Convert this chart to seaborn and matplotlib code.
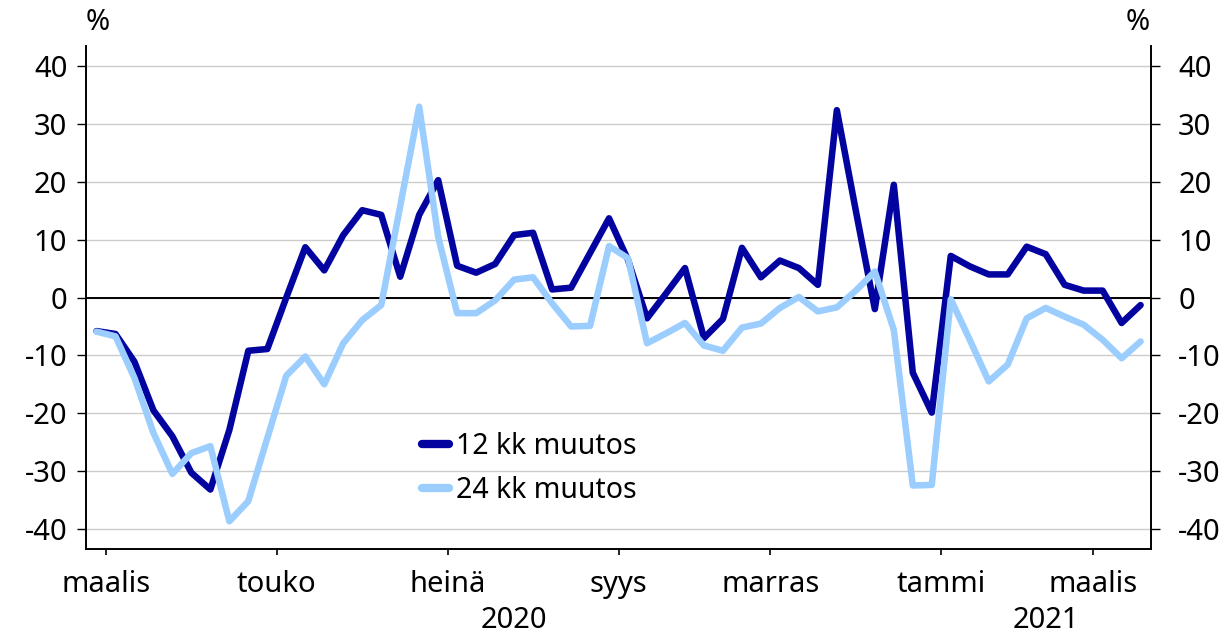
import pandas as pd
import matplotlib.pyplot as plt
import seaborn as sns

sns.set_theme(style="white")
plt.rcParams['font.family'] = ['Noto Sans', 'DejaVu Sans']
plt.rcParams['axes.unicode_minus'] = False
plt.rcParams['text.color'] = 'black'
plt.rcParams['xtick.labelcolor'] = 'black'
plt.rcParams['ytick.labelcolor'] = 'black'

# weekly observations, first week starting Mon 24.2.2020
week_start = "2020-02-24"
n_weeks = 56

muutos_12kk = [-5.8, -6.3, -11.1, -19.5, -24.0, -30.3, -33.2, -22.9, -9.2, -8.9,
               0.0, 8.7, 4.7, 10.8, 15.1, 14.3, 3.6, 14.3, 20.3, 5.5,
               4.3, 5.8, 10.8, 11.2, 1.4, 1.7, 7.7, 13.7, 6.5, -3.6,
               0.7, 5.1, -7.0, -3.7, 8.6, 3.5, 6.4, 5.1, 2.2, 32.4,
               15.0, -2.0, 19.5, -13.0, -19.9, 7.2, 5.4, 4.0, 4.0, 8.8,
               7.5, 2.2, 1.2, 1.2, -4.4, -1.3]
muutos_24kk = [-5.9, -6.7, -13.9, -23.4, -30.5, -26.9, -25.7, -38.7, -35.2, -24.3,
               -13.5, -10.2, -15.0, -7.9, -3.9, -1.3, 15.8, 33.0, 10.5, -2.7,
               -2.7, -0.5, 3.1, 3.5, -1.0, -5.0, -4.9, 8.9, 6.8, -7.9,
               -6.2, -4.4, -8.3, -9.2, -5.2, -4.5, -1.8, 0.1, -2.4, -1.7,
               1.2, 4.5, -5.6, -32.5, -32.4, -0.3, -7.3, -14.5, -11.6, -3.6,
               -1.8, -3.3, -4.7, -7.3, -10.5, -7.6]

series_names = ["12 kk muutos", "24 kk muutos"]
month_starts = ["2020-03-01", "2020-05-01", "2020-07-01", "2020-09-01",
                "2020-11-01", "2021-01-01", "2021-03-01"]
month_labels = ["maalis", "touko", "heinä", "syys", "marras", "tammi", "maalis"]
years = ["2020", "2021"]
yticks = [-40, -30, -20, -10, 0, 10, 20, 30, 40]

dark = "#0303a0"
light = "#9ccdff"
fs = 21

weeks = pd.date_range(week_start, periods=n_weeks, freq="7D")
df = pd.DataFrame({"i": range(n_weeks),
                   series_names[0]: muutos_12kk,
                   series_names[1]: muutos_24kk})
long = df.melt(id_vars="i", var_name="sarja", value_name="arvo")

# tick between the last week of the old month and first week of the new one
tick_pos = []
for m in month_starts:
    first = int((weeks >= pd.Timestamp(m)).argmax())
    tick_pos.append(first - 0.5)
year_break = tick_pos[month_labels.index("tammi")]

fig = plt.figure(figsize=(12.27, 6.37), dpi=100)
ax = fig.add_axes([0.0701, 0.138, 0.8680, 0.7898])

ax.grid(axis="y", color="#cccccc", linewidth=1.0)
ax.axhline(0, color="black", linewidth=1.4, zorder=1.5)
sns.lineplot(data=long, x="i", y="arvo", hue="sarja", palette=[dark, light],
             linewidth=4.7, ax=ax, zorder=3)

xlim = (-0.55, n_weeks - 0.45)
ax.set_xlim(*xlim)
ax.set_ylim(-43.5, 43.5)
ax.set_xlabel("")
ax.set_ylabel("")

ax.set_xticks(tick_pos)
ax.set_xticklabels(month_labels)
ax.set_xticks([year_break], minor=True)
ax.tick_params(axis="x", which="major", length=4, width=1.2, color="black",
               labelsize=fs, pad=11, direction="out", bottom=True)
ax.tick_params(axis="x", which="minor", length=9, width=1.2, color="black",
               bottom=True)
ax.set_yticks(yticks)
ax.tick_params(axis="y", length=6.5, width=1.0, color="black", labelsize=fs,
               pad=7, direction="out", left=True)

ax2 = ax.twinx()
ax2.set_ylim(ax.get_ylim())
ax2.set_yticks(yticks)
ax2.tick_params(axis="y", length=6.5, width=1.0, color="black", labelsize=fs,
                pad=13, direction="out", right=True)
ax2.grid(False)

for a in (ax, ax2):
    for side in ("left", "right", "bottom"):
        a.spines[side].set_visible(True)
        a.spines[side].set_color("black")
        a.spines[side].set_linewidth(1.2)
    a.spines["top"].set_visible(False)

# year labels centred under their part of the axis
ax.text((xlim[0] + year_break) / 2, -0.141, years[0], transform=ax.get_xaxis_transform(),
        ha="center", va="center", fontsize=fs)
ax.text((year_break + xlim[1]) / 2, -0.141, years[1], transform=ax.get_xaxis_transform(),
        ha="center", va="center", fontsize=fs)

fig.text(98 / 1227, 1 - 23 / 637, "%", ha="center", va="center", fontsize=fs)
fig.text(1138 / 1227, 1 - 23 / 637, "%", ha="center", va="center", fontsize=fs)

leg = ax.legend(loc="upper left", bbox_to_anchor=(0.305, 0.255), frameon=False,
                fontsize=20.5, handlelength=0.95, handletextpad=0.25,
                labelspacing=0.52, borderaxespad=0)
for h in leg.get_lines():
    h.set_linewidth(6)

fig.savefig("out.png", dpi=100)
